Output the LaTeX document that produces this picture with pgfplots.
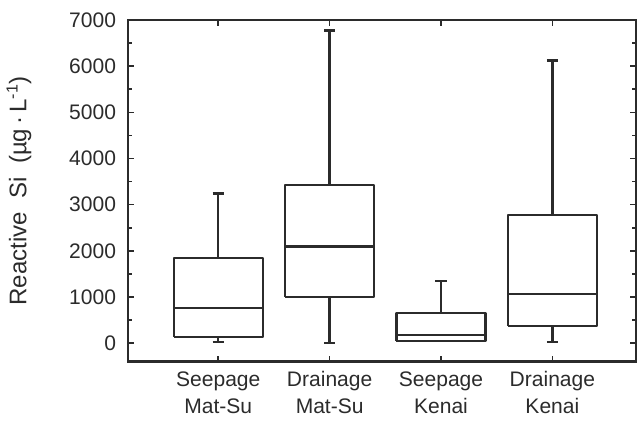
\documentclass[border=0pt]{standalone}
\usepackage{pgfplots}
\pgfplotsset{compat=1.18}
\usepackage{fontspec}
\setmainfont{Liberation Sans}
\definecolor{ink}{HTML}{2B2B2B}

\begin{document}
\begin{tikzpicture}
\begin{axis}[
    scale only axis,
    width=253.5pt,
    height=170.5pt,
    xmin=-0.81, xmax=3.75,
    ymin=-400, ymax=7000,
    xtick={0,1,2,3},
    xticklabels={{Seepage\\Mat-Su},{Drainage\\Mat-Su},{Seepage\\Kenai},{Drainage\\Kenai}},
    xticklabel style={align=center, font=\fontsize{10.5}{13.5}\selectfont, text=ink, yshift=-1.5pt},
    ytick={0,1000,2000,3000,4000,5000,6000,7000},
    minor y tick num=1,
    yticklabel style={font=\fontsize{10.5}{12}\selectfont, text=ink, xshift=-2.5pt},
    /pgf/number format/assume math mode=true,
    /pgf/number format/1000 sep={},
    scaled y ticks=false,
    tick align=inside,
    major tick length=3pt,
    minor tick length=2pt,
    tick style={ink, line width=0.8pt},
    axis line style={ink, line width=1.1pt},
    ylabel={Reactive\ \ Si\ \ (µg\,·\,L\textsuperscript{-1})},
    ylabel style={font=\fontsize{12}{14}\selectfont, text=ink},
    ylabel shift=12pt,
    unbounded coords=jump,
    box/.style={ink, line width=1.2pt, line join=round, mark=none},
]
% each box: box outline, median, upper whisker + cap, lower whisker + cap
% Seepage Mat-Su: lw 20, q1 130, med 760, q3 1850, uw 3240
\addplot[box] coordinates {(-0.4,130) (0.4,130) (0.4,1850) (-0.4,1850) (-0.4,130) (nan,nan)
    (-0.4,760) (0.4,760) (nan,nan) (0,1850) (0,3240) (nan,nan) (-0.05,3240) (0.05,3240) (nan,nan)
    (0,130) (0,20) (nan,nan) (-0.05,20) (0.05,20)};
% Drainage Mat-Su: lw 0, q1 1000, med 2090, q3 3420, uw 6770
\addplot[box] coordinates {(0.6,1000) (1.4,1000) (1.4,3420) (0.6,3420) (0.6,1000) (nan,nan)
    (0.6,2090) (1.4,2090) (nan,nan) (1,3420) (1,6770) (nan,nan) (0.95,6770) (1.05,6770) (nan,nan)
    (1,1000) (1,0) (nan,nan) (0.95,0) (1.05,0)};
% Seepage Kenai: lw 30, q1 40, med 170, q3 650, uw 1350
\addplot[box] coordinates {(1.6,40) (2.4,40) (2.4,650) (1.6,650) (1.6,40) (nan,nan)
    (1.6,170) (2.4,170) (nan,nan) (2,650) (2,1350) (nan,nan) (1.95,1350) (2.05,1350)};
% Drainage Kenai: lw 30, q1 365, med 1060, q3 2780, uw 6120
\addplot[box] coordinates {(2.6,365) (3.4,365) (3.4,2780) (2.6,2780) (2.6,365) (nan,nan)
    (2.6,1060) (3.4,1060) (nan,nan) (3,2780) (3,6120) (nan,nan) (2.95,6120) (3.05,6120) (nan,nan)
    (3,365) (3,30) (nan,nan) (2.95,30) (3.05,30)};
\coordinate (axtop) at (rel axis cs:0,1);
\end{axis}
% white space above the frame, as in the scan
\path (axtop) ++(0,10pt);
\end{tikzpicture}
\end{document}
